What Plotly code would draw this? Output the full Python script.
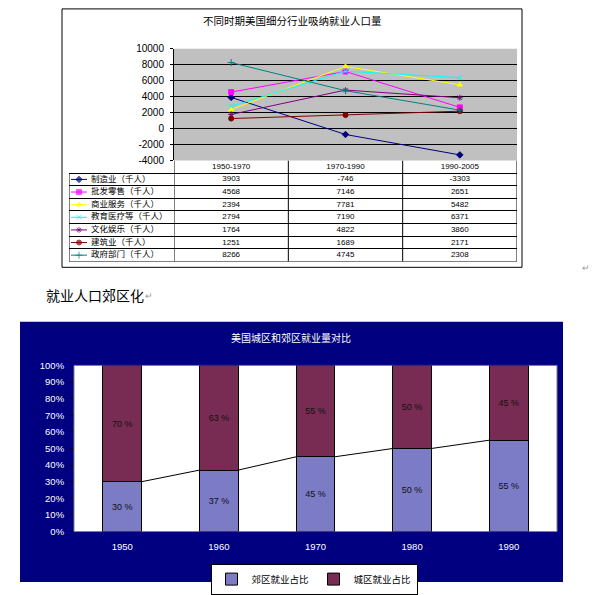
import plotly.graph_objects as go

# ---------------- data ----------------
PERIODS = ["1950-1970", "1970-1990", "1990-2005"]
SERIES = ["制造业（千人）", "批发零售（千人）", "商业服务（千人）", "教育医疗等（千人）",
          "文化娱乐（千人）", "建筑业（千人）", "政府部门（千人）"]
MANUFACTURING = [3903, -746, -3303]
WHOLESALE_RETAIL = [4568, 7146, 2651]
BUSINESS_SERVICES = [2394, 7781, 5482]
EDU_HEALTH = [2794, 7190, 6371]
CULTURE_ENT = [1764, 4822, 3860]
CONSTRUCTION = [1251, 1689, 2171]
GOVERNMENT = [8266, 4745, 2308]
SERIES_VALUES = [MANUFACTURING, WHOLESALE_RETAIL, BUSINESS_SERVICES, EDU_HEALTH,
                 CULTURE_ENT, CONSTRUCTION, GOVERNMENT]
Y1_TICKS = [-4000, -2000, 0, 2000, 4000, 6000, 8000, 10000]

YEARS = ["1950", "1960", "1970", "1980", "1990"]
SUBURB_SHARE = [30, 37, 45, 50, 55]
URBAN_SHARE = [70, 63, 55, 50, 45]
SHARE_NAMES = ["郊区就业占比", "城区就业占比"]
Y2_TICKS = [0, 10, 20, 30, 40, 50, 60, 70, 80, 90, 100]

TITLE1 = "不同时期美国细分行业吸纳就业人口量"
TITLE2 = "美国城区和郊区就业量对比"
HEADING = "就业人口郊区化"

# ---------------- styles ----------------
W, H = 600, 595
def px(x):
    return x / W
def py(y):
    return 1 - y / H

COLORS = ["#000080", "#FF00FF", "#FFFF00", "#00FFFF", "#800080", "#800000", "#008080"]
SYMBOLS = ["diamond", "square", "triangle-up", "x-thin-open", "asterisk-open",
           "circle", "cross-thin-open"]
FONT = "Liberation Sans, Noto Sans CJK SC, sans-serif"
CJK = "Noto Sans CJK SC, sans-serif"

fig = go.Figure()

# ---- line chart ----
for name, vals, col, sym in zip(SERIES, SERIES_VALUES, COLORS, SYMBOLS):
    fig.add_trace(go.Scatter(
        x=PERIODS, y=vals, mode="lines+markers", name=name, showlegend=False,
        line=dict(color=col, width=1),
        marker=dict(symbol=sym, size=5, color=col, line=dict(color=col, width=1)),
        xaxis="x", yaxis="y"))

# ---- data table under line chart ----
fig.add_trace(go.Scatter(
    x=PERIODS, y=[-0.5] * len(PERIODS), mode="text", text=PERIODS,
    textfont=dict(size=8, color="black", family=FONT), showlegend=False,
    xaxis="x", yaxis="y3"))
for i, (name, vals, col, sym) in enumerate(zip(SERIES, SERIES_VALUES, COLORS, SYMBOLS)):
    fig.add_trace(go.Scatter(
        x=PERIODS, y=[i + 0.5] * len(vals), mode="text", text=[str(v) for v in vals],
        textfont=dict(size=8, color="black", family=FONT), showlegend=False,
        xaxis="x", yaxis="y3"))
    # legend key sample
    fig.add_trace(go.Scatter(
        x=[71, 79, 87], y=[i + 0.5] * 3, mode="lines+markers", showlegend=False,
        line=dict(color=col, width=1),
        marker=dict(symbol=sym, size=[0, 5, 0], color=col, line=dict(color=col, width=1)),
        xaxis="x3", yaxis="y3"))
fig.add_trace(go.Scatter(
    x=[91] * len(SERIES), y=[i + 0.5 for i in range(len(SERIES))], mode="text",
    text=SERIES, textposition="middle right",
    textfont=dict(size=8.5, color="black", family=CJK), showlegend=False,
    xaxis="x3", yaxis="y3"))

# ---- stacked bar chart ----
idx = list(range(len(YEARS)))
fig.add_trace(go.Bar(
    x=idx, y=SUBURB_SHARE, name=SHARE_NAMES[0], width=0.4,
    marker=dict(color="#7b7bc6", line=dict(color="black", width=1)),
    text=[f"{v} %" for v in SUBURB_SHARE], textposition="inside",
    insidetextanchor="middle", constraintext="none",
    textfont=dict(size=9, color="#111111", family=FONT),
    xaxis="x2", yaxis="y2"))
fig.add_trace(go.Bar(
    x=idx, y=URBAN_SHARE, name=SHARE_NAMES[1], width=0.4,
    marker=dict(color="#782c53", line=dict(color="black", width=1)),
    text=[f"{v} %" for v in URBAN_SHARE], textposition="inside",
    insidetextanchor="middle", constraintext="none",
    textfont=dict(size=9, color="#111111", family=FONT),
    xaxis="x2", yaxis="y2"))
# series lines between bar tops
sx, sy = [], []
for i in range(len(YEARS) - 1):
    sx += [idx[i] + 0.2, idx[i + 1] - 0.2, None]
    sy += [SUBURB_SHARE[i], SUBURB_SHARE[i + 1], None]
fig.add_trace(go.Scatter(x=sx, y=sy, mode="lines", line=dict(color="black", width=1),
                         showlegend=False, xaxis="x2", yaxis="y2"))

# ---------------- layout ----------------
shapes = [
    # first chart frame
    dict(type="rect", xref="paper", yref="paper", x0=px(62), x1=px(522), y0=py(269), y1=py(3),
         line=dict(color="black", width=1), fillcolor="rgba(0,0,0,0)"),
    # gray plot area
    dict(type="rect", xref="x domain", yref="y domain", x0=0, x1=1, y0=0, y1=1,
         fillcolor="#C0C0C0", line=dict(width=0), layer="below"),
    # navy chart area for bar chart
    dict(type="rect", xref="paper", yref="paper", x0=px(20), x1=px(563), y0=py(593), y1=py(325),
         fillcolor="#000080", line=dict(width=0), layer="below"),
    dict(type="rect", xref="x2 domain", yref="y2 domain", x0=0, x1=1, y0=0, y1=1,
         fillcolor="white", line=dict(color="#808080", width=1), layer="below"),
    # table borders
    dict(type="line", xref="x3", yref="y3", x0=69, x1=69, y0=0, y1=7,
         line=dict(color="black", width=1)),
    dict(type="line", xref="x3", yref="y3", x0=69, x1=517, y0=7, y1=7,
         line=dict(color="black", width=1)),
]
for k in range(len(PERIODS) + 1):
    shapes.append(dict(type="line", xref="x", yref="y3", x0=k - 0.5, x1=k - 0.5, y0=-1, y1=7,
                       line=dict(color="black", width=1)))

annotations = [
    dict(text=TITLE1, x=px(292), y=py(15), xref="paper", yref="paper", showarrow=False,
         xanchor="center", yanchor="middle", font=dict(size=10.5, color="black", family=CJK)),
    dict(text=HEADING, x=px(44), y=py(297), xref="paper", yref="paper", showarrow=False,
         xanchor="left", yanchor="middle", font=dict(size=14, color="black", family=CJK)),
    dict(text="↵", x=px(143), y=py(299), xref="paper", yref="paper", showarrow=False,
         xanchor="left", yanchor="middle", font=dict(size=9, color="#999999", family=FONT)),
    dict(text="↵", x=px(580), y=py(270), xref="paper", yref="paper", showarrow=False,
         xanchor="left", yanchor="middle", font=dict(size=9, color="#999999", family=FONT)),
    dict(text=TITLE2, x=px(291), y=py(341), xref="paper", yref="paper", showarrow=False,
         xanchor="center", yanchor="middle", font=dict(size=10, color="white", family=CJK)),
]

fig.update_layout(
    width=W, height=H, margin=dict(l=0, r=0, t=0, b=0),
    paper_bgcolor="white", plot_bgcolor="rgba(0,0,0,0)",
    font=dict(family=FONT, color="black", size=10),
    barmode="stack", shapes=shapes, annotations=annotations,
    xaxis=dict(domain=[px(174), px(517)], type="category", categoryarray=PERIODS,
               range=[-0.5, 2.5], showticklabels=False, ticks="", showgrid=False,
               zeroline=False, showline=False, anchor="y"),
    yaxis=dict(domain=[py(159), py(44)], range=[-4000, 10000], tickvals=Y1_TICKS,
               ticktext=[str(v) for v in Y1_TICKS], showgrid=False,
               minor=dict(tickmode="array", tickvals=Y1_TICKS[:-1], showgrid=True,
                          gridcolor="black", gridwidth=1, ticks=""),
               zeroline=False, showline=True, linecolor="black",
               ticks="outside", ticklen=3, tickcolor="black", ticklabelstandoff=4,
               tickfont=dict(size=10, color="black"), anchor="x"),
    xaxis3=dict(domain=[px(69), px(517)], range=[69, 517], visible=False, anchor="y3"),
    yaxis3=dict(domain=[py(263), py(159)], range=[7, -1], tickvals=list(range(8)),
                showgrid=True, gridcolor="black", gridwidth=1, showticklabels=False,
                ticks="", zeroline=False, showline=False, anchor="x3"),
    xaxis2=dict(domain=[px(74), px(557)], range=[-0.5, 4.5], tickvals=idx, ticktext=YEARS,
                tickfont=dict(size=9.5, color="white"), ticks="outside", ticklen=6,
                tickcolor="#000080", showgrid=False, zeroline=False, showline=False,
                anchor="y2"),
    yaxis2=dict(domain=[py(541), py(370)], range=[0, 100], tickvals=Y2_TICKS,
                ticktext=[f"{v}%" for v in Y2_TICKS], tickfont=dict(size=9.5, color="white"),
                ticks="outside", ticklen=3, tickcolor="black", ticklabelstandoff=4,
                showgrid=False, zeroline=False, showline=False, anchor="x2"),
    legend=dict(orientation="h", x=px(314), xanchor="center", y=py(574), yanchor="top",
                bgcolor="white", bordercolor="black", borderwidth=1,
                font=dict(size=9.5, color="black", family=CJK), itemwidth=30,
                traceorder="normal"),
)

fig.write_html("out.html", config={"displayModeBar": False},
               post_script="document.body.style.margin='0';")
